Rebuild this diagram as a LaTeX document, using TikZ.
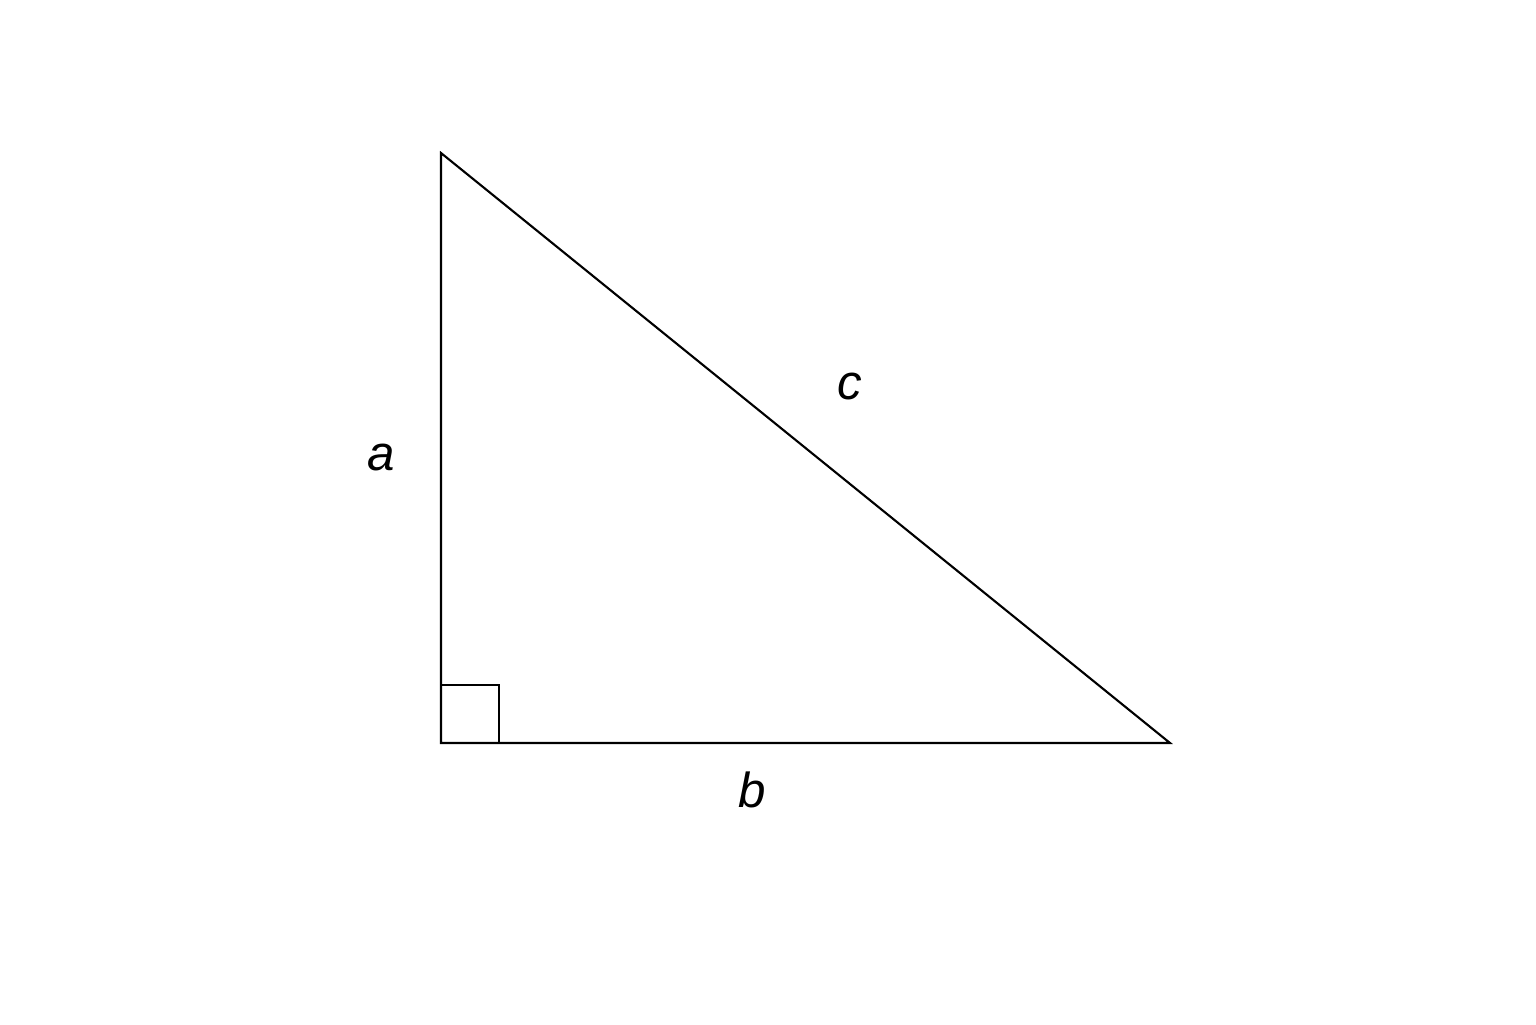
\documentclass[tikz,border=0pt]{standalone}
\usepackage{fontspec}
\setmainfont{Liberation Sans}
\begin{document}
\begin{tikzpicture}
      \useasboundingbox (0,0) rectangle (15.36,10.24);
      \coordinate (A) at (4.41,8.71);
      \coordinate (C) at (4.41,2.81);
      \coordinate (B) at (11.70,2.81);
      \begin{scope}[line width=0.6pt]
        \draw (A) -- (C) -- (B) -- cycle;
        \draw (C) ++(0,0.58) -- ++(0.58,0) -- ++(0,-0.58);
      \end{scope}
      \begin{scope}[every node/.style={font=\fontsize{14}{16}\selectfont\itshape}]
        \node (a) at (3.81,5.67) {a};
        \node (b) at (7.52,2.34) {b};
        \node (c) at (8.50,6.37) {c};
      \end{scope}
    \end{tikzpicture}
\end{document}
